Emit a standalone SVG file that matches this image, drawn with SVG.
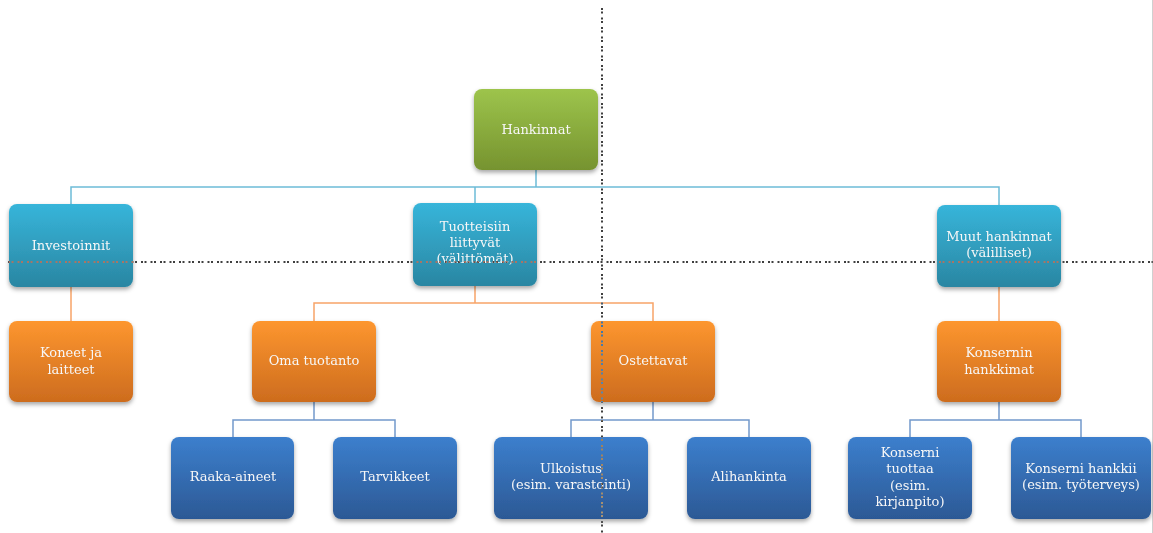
<svg xmlns="http://www.w3.org/2000/svg" width="1153" height="533" viewBox="0 0 1153 533">
<defs>
<linearGradient id="gGreen" x1="0" y1="0" x2="0" y2="1"><stop offset="0" stop-color="#9DC44C"/><stop offset="1" stop-color="#76932F"/></linearGradient>
<linearGradient id="gTeal" x1="0" y1="0" x2="0" y2="1"><stop offset="0" stop-color="#37B5DA"/><stop offset="1" stop-color="#2A86A2"/></linearGradient>
<linearGradient id="gOrange" x1="0" y1="0" x2="0" y2="1"><stop offset="0" stop-color="#FD962F"/><stop offset="1" stop-color="#CD6C1E"/></linearGradient>
<linearGradient id="gBlue" x1="0" y1="0" x2="0" y2="1"><stop offset="0" stop-color="#3C7FCD"/><stop offset="1" stop-color="#2C5995"/></linearGradient>
<filter id="sh" x="-10%" y="-10%" width="125%" height="130%"><feDropShadow dx="0" dy="2.5" stdDeviation="2" flood-color="#000" flood-opacity="0.35"/></filter>
</defs>
<style>
.n{filter:url(#sh)}
.t{font-family:"DejaVu Serif","Liberation Serif",serif;font-size:13px;fill:#F7F7F7;text-anchor:middle}
.cb{fill:none;stroke:#6DBCD7;stroke-width:1.5}
.co{fill:none;stroke:#F8A468;stroke-width:1.5}
.cl{fill:none;stroke:#7399CB;stroke-width:1.5}
.dot{stroke:#FFFFFF;stroke-width:1.5;stroke-dasharray:2 1.5 2 4;mix-blend-mode:difference;fill:none}
</style>
<rect x="0" y="0" width="1153" height="533" fill="#FFFFFF"/>
<line x1="1152.5" y1="0" x2="1152.5" y2="533" stroke="#D0D0D0" stroke-width="1"/>
<g id="connectors">
<path class="cb" d="M536,170 V187 M71,204 V187 H999 V205 M475,187 V203"/>
<path class="co" d="M71,287 V321 M999,287 V321 M475,286 V303 M314,321 V303 H653 V321"/>
<path class="cl" d="M314,402 V420 M233,437 V420 H395 V437 M653,402 V420 M571,437 V420 H749 V437 M999,402 V420 M910,437 V420 H1081 V437"/>
</g>
<g id="n-hankinnat" class="n"><rect x="474" y="89" width="124" height="81" rx="8" fill="url(#gGreen)"/><text class="t" x="536" y="134">Hankinnat</text></g>
<g id="n-investoinnit" class="n"><rect x="9" y="204" width="124" height="83" rx="8" fill="url(#gTeal)"/><text class="t" x="71" y="250">Investoinnit</text></g>
<g id="n-tuotteisiin" class="n"><rect x="413" y="203" width="124" height="83" rx="8" fill="url(#gTeal)"/><text class="t" x="475" y="231">Tuotteisiin</text><text class="t" x="475" y="247">liittyvät</text><text class="t" x="475" y="263">(välittömät)</text></g>
<g id="n-muut" class="n"><rect x="937" y="205" width="124" height="82" rx="8" fill="url(#gTeal)"/><text class="t" x="999" y="241">Muut hankinnat</text><text class="t" x="999" y="257">(välilliset)</text></g>
<g id="n-koneet" class="n"><rect x="9" y="321" width="124" height="81" rx="8" fill="url(#gOrange)"/><text class="t" x="71" y="357">Koneet ja</text><text class="t" x="71" y="374">laitteet</text></g>
<g id="n-oma" class="n"><rect x="252" y="321" width="124" height="81" rx="8" fill="url(#gOrange)"/><text class="t" x="314" y="365">Oma tuotanto</text></g>
<g id="n-ostettavat" class="n"><rect x="591" y="321" width="124" height="81" rx="8" fill="url(#gOrange)"/><text class="t" x="653" y="365">Ostettavat</text></g>
<g id="n-konsernin" class="n"><rect x="937" y="321" width="124" height="81" rx="8" fill="url(#gOrange)"/><text class="t" x="999" y="357">Konsernin</text><text class="t" x="999" y="374">hankkimat</text></g>
<g id="n-raaka" class="n"><rect x="171" y="437" width="123" height="82" rx="8" fill="url(#gBlue)"/><text class="t" x="233" y="481">Raaka-aineet</text></g>
<g id="n-tarvikkeet" class="n"><rect x="333" y="437" width="124" height="82" rx="8" fill="url(#gBlue)"/><text class="t" x="395" y="481">Tarvikkeet</text></g>
<g id="n-ulkoistus" class="n"><rect x="494" y="437" width="154" height="82" rx="8" fill="url(#gBlue)"/><text class="t" x="571" y="473">Ulkoistus</text><text class="t" x="571" y="489">(esim. varastointi)</text></g>
<g id="n-alihankinta" class="n"><rect x="687" y="437" width="124" height="82" rx="8" fill="url(#gBlue)"/><text class="t" x="749" y="481">Alihankinta</text></g>
<g id="n-tuottaa" class="n"><rect x="848" y="437" width="124" height="82" rx="8" fill="url(#gBlue)"/><text class="t" x="910" y="457">Konserni</text><text class="t" x="910" y="473">tuottaa</text><text class="t" x="910" y="490">(esim.</text><text class="t" x="910" y="506">kirjanpito)</text></g>
<g id="n-hankkii" class="n"><rect x="1011" y="437" width="140" height="82" rx="8" fill="url(#gBlue)"/><text class="t" x="1081" y="473">Konserni hankkii</text><text class="t" x="1081" y="489">(esim. työterveys)</text></g>
<g id="guides">
<line class="dot" x1="602" y1="8" x2="602" y2="533"/>
<line class="dot" x1="8" y1="262" x2="1153" y2="262"/>
</g>
</svg>
